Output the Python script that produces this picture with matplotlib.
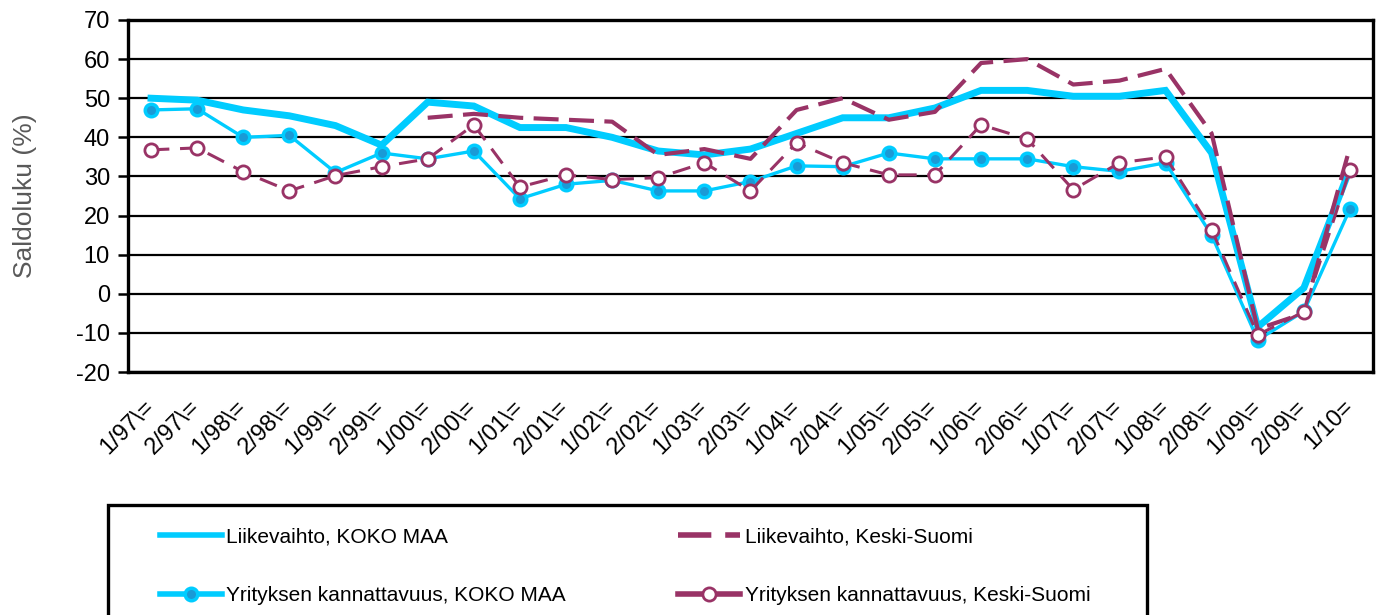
import numpy as np
import matplotlib
matplotlib.use("Agg")
import matplotlib.pyplot as plt
from matplotlib.patches import Rectangle

plt.rcParams["font.family"] = ["Liberation Sans", "DejaVu Sans"]
plt.rcParams["axes.unicode_minus"] = False

# --- data ---
periods = ["1/97\\=", "2/97\\=", "1/98\\=", "2/98\\=", "1/99\\=", "2/99\\=",
           "1/00\\=", "2/00\\=", "1/01\\=", "2/01\\=", "1/02\\=", "2/02\\=",
           "1/03\\=", "2/03\\=", "1/04\\=", "2/04\\=", "1/05\\=", "2/05\\=",
           "1/06\\=", "2/06\\=", "1/07\\=", "2/07\\=", "1/08\\=", "2/08\\=",
           "1/09\\=", "2/09\\=", "1/10="]

liike_koko = [50, 49.5, 47, 45.5, 43, 38, 49, 48, 42.5, 42.5, 40, 36.5,
              35.5, 37, 41, 45, 45, 47.5, 52, 52, 50.5, 50.5, 52, 36,
              -8.5, 1.5, 32]
liike_ks = [np.nan, np.nan, np.nan, np.nan, np.nan, np.nan, 45, 46, 45, 44.5,
            44, 35.5, 37, 34.5, 47, 50, 44.5, 46.5, 59, 60, 53.5, 54.5,
            57.5, 41, -9, -5, 37.5]
kann_koko = [47, 47.3, 40, 40.5, 31, 36, 34.5, 36.5, 24.3, 28, 29, 26.3,
             26.3, 28.7, 32.7, 32.5, 36, 34.5, 34.5, 34.5, 32.5, 31.3, 33.5,
             15, -11.8, -4.5, 21.7]
kann_ks = [36.8, 37.3, 31.2, 26.3, 30.2, 32.5, 34.5, 43.2, 27.3, 30.4, 29.2,
           29.7, 33.5, 26.3, 38.6, 33.5, 30.4, 30.4, 43.2, 39.6, 26.6, 33.5,
           35, 16.4, -10.5, -4.6, 31.7]

CYAN = "#00CCFF"
CYAN_DARK = "#1A9AD6"
PURPLE = "#993366"

x = np.arange(len(periods))

fig = plt.figure(figsize=(13.82, 6.15), dpi=100)
ax = fig.add_axes([0.0926, 0.3951, 0.9009, 0.5724])

h1, = ax.plot(x, liike_koko, color=CYAN, lw=5, solid_joinstyle="miter",
              label="Liikevaihto, KOKO MAA", zorder=2)
h2, = ax.plot(x, liike_ks, color=PURPLE, lw=3, dashes=(6, 2.5),
              label="Liikevaihto, Keski-Suomi", zorder=3)
h3, = ax.plot(x, kann_koko, color=CYAN, lw=2.4, marker="o", ms=9,
              mfc=CYAN_DARK, mec=CYAN, mew=2.5,
              label="Yrityksen kannattavuus, KOKO MAA", zorder=4)
h4, = ax.plot(x, kann_ks, color=PURPLE, lw=2.2, dashes=(6, 3.5), marker="o",
              ms=9.5, mfc="white", mec=PURPLE, mew=2,
              label="Yrityksen kannattavuus, Keski-Suomi", zorder=5)

ax.set_xlim(-0.5, len(periods) - 0.5)
ax.set_ylim(-20, 70)
ax.set_yticks(np.arange(-20, 71, 10))
ax.yaxis.grid(True, color="black", lw=1.6)
ax.set_axisbelow(True)

for s in ax.spines.values():
    s.set_linewidth(2.4)
    s.set_color("black")

ax.tick_params(axis="y", length=7, width=1.8, pad=6, labelsize=17)
ax.tick_params(axis="x", length=0, pad=23, labelsize=17)
ax.set_xticks(x)
ax.set_xticklabels(periods, rotation=45, ha="right", va="center",
                   rotation_mode="anchor")

ax.set_ylabel("Saldoluku (%)", fontsize=19, color="#595959", labelpad=28)

# legend: two columns, boxed, running off the bottom edge
leg_kw = dict(frameon=False, loc="upper left", fontsize=15, borderpad=0,
              borderaxespad=0, handlelength=3.0, handletextpad=0.2,
              labelspacing=1.9)
leg1 = fig.legend(handles=[h1, h3], bbox_to_anchor=(0.1155, 0.142), **leg_kw)
leg2 = fig.legend(handles=[h2, h4], bbox_to_anchor=(0.4905, 0.142), **leg_kw)
for lg in (leg1, leg2):
    for ln in lg.get_lines():
        ln.set_linewidth(4)
leg2.get_lines()[1].set_linestyle("-")

fig.patches.append(Rectangle((0.0785, -0.05), 0.7515, 0.229,
                             transform=fig.transFigure, fill=False,
                             edgecolor="black", lw=2.4))

fig.savefig("out.png", dpi=100)
